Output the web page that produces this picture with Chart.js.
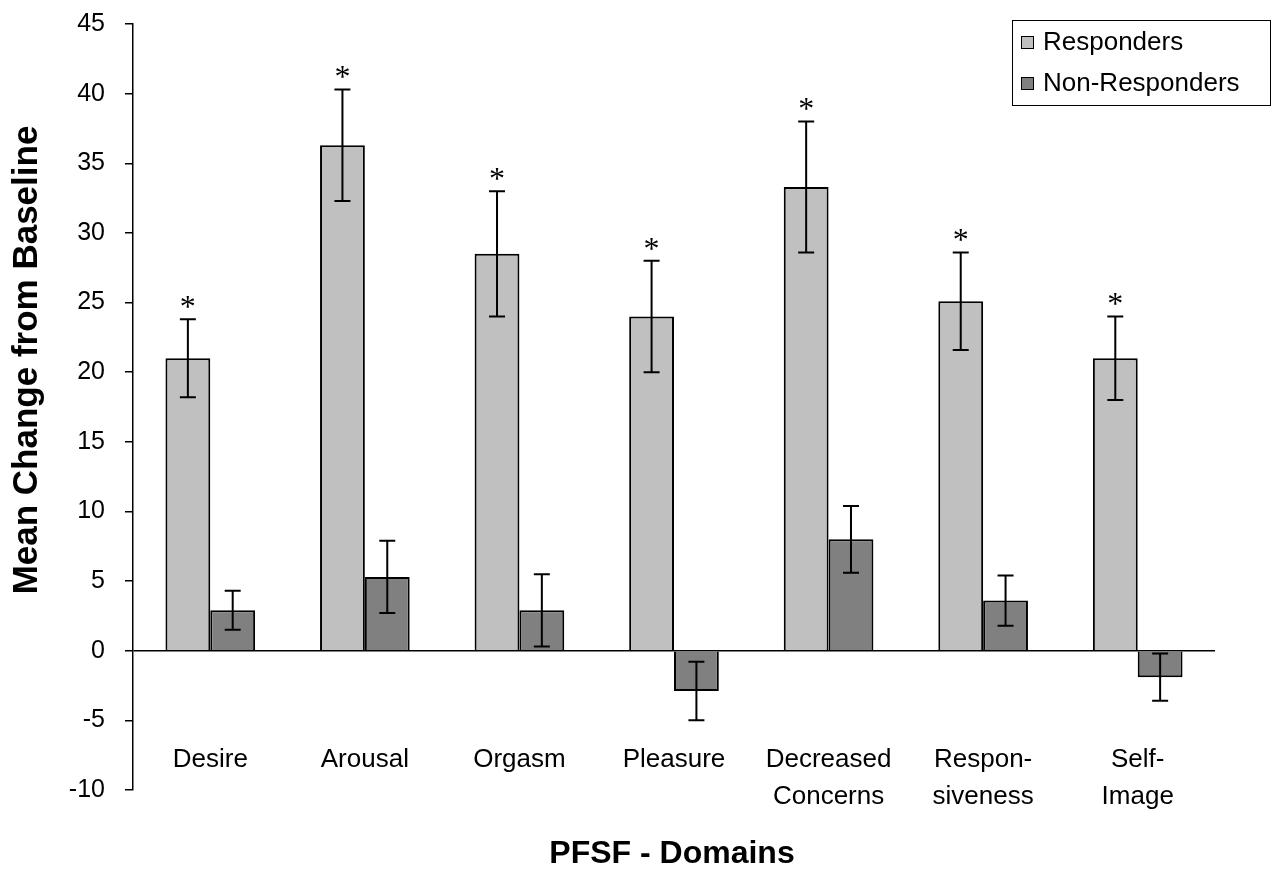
<!DOCTYPE html>
<html>
<head>
<meta charset="utf-8">
<script src="https://cdn.jsdelivr.net/npm/chart.js@4"></script>
<style>
  body { margin: 0; background: #fff; }
  #wrap { width: 1272px; height: 869px; position: relative; }
</style>
</head>
<body>
<div id="wrap"><canvas id="myChart"></canvas></div>
<script>
const categories = ['Desire', 'Arousal', 'Orgasm', 'Pleasure', ['Decreased', 'Concerns'], ['Respon-', 'siveness'], ['Self-', 'Image']];
const responders = [21.0, 36.3, 28.5, 24.0, 33.3, 25.1, 21.0];
const respondersErr = [2.8, 4.0, 4.5, 4.0, 4.7, 3.5, 3.0];
const nonResponders = [2.9, 5.3, 2.9, -2.9, 8.0, 3.6, -1.9];
const nonRespondersErr = [1.4, 2.6, 2.6, 2.1, 2.4, 1.8, 1.7];
const significant = [true, true, true, true, true, true, true];
const yTicks = { min: -10, max: 45, step: 5 };

const ctx = document.getElementById('myChart');
const FONT = "'Liberation Sans', Arial, sans-serif";

// error bars, asterisks, category labels, legend box and axis titles
const extras = {
    id: 'extras',
    afterDatasetsDraw(chart) {
        const c = chart.ctx;
        const y = chart.scales.y;
        const errs = [respondersErr, nonRespondersErr];
        c.save();
        c.strokeStyle = '#000';
        c.lineWidth = 2;
        chart.data.datasets.forEach((ds, i) => {
            const meta = chart.getDatasetMeta(i);
            meta.data.forEach((bar, j) => {
                const v = ds.data[j];
                const e = errs[i][j];
                const top = y.getPixelForValue(v + e);
                const bot = y.getPixelForValue(v - e);
                c.beginPath();
                c.moveTo(bar.x, top); c.lineTo(bar.x, bot);
                c.moveTo(bar.x - 8, top); c.lineTo(bar.x + 8, top);
                c.moveTo(bar.x - 8, bot); c.lineTo(bar.x + 8, bot);
                c.stroke();
                if (i === 0 && significant[j]) {
                    c.fillStyle = '#000';
                    c.font = "32px 'Liberation Serif', 'Times New Roman', serif";
                    c.textAlign = 'center';
                    c.textBaseline = 'alphabetic';
                    c.fillText('*', bar.x, top - 2);
                }
            });
        });
        c.restore();
    },
    afterDraw(chart) {
        const c = chart.ctx;
        const x = chart.scales.x;
        c.save();
        // category labels sit low inside the plot
        c.fillStyle = '#000';
        c.font = '26px ' + FONT;
        c.textAlign = 'center';
        c.textBaseline = 'middle';
        categories.forEach((lab, i) => {
            const lines = Array.isArray(lab) ? lab : [lab];
            const px = x.getPixelForTick(i);
            lines.forEach((ln, k) => c.fillText(ln, px, 760 + k * 37));
        });
        // legend
        c.strokeStyle = '#000';
        c.lineWidth = 1;
        c.strokeRect(1012.5, 20.5, 258, 85);
        const items = [['Responders', '#c0c0c0', 42], ['Non-Responders', '#808080', 83]];
        c.textAlign = 'left';
        items.forEach(([txt, col, cy]) => {
            c.fillStyle = col;
            c.fillRect(1021, cy - 6, 12, 12);
            c.strokeRect(1021.5, cy - 5.5, 12, 12);
            c.fillStyle = '#000';
            c.fillText(txt, 1043, cy + 1);
        });
        // axis titles
        c.font = 'bold 32px ' + FONT;
        c.textAlign = 'center';
        c.fillText('PFSF - Domains', 672, 854);
        c.translate(27, 360);
        c.rotate(-Math.PI / 2);
        c.font = 'bold 35px ' + FONT;
        c.fillText('Mean Change from Baseline', 0, 0);
        c.restore();
    }
};

new Chart(ctx, {
    type: 'bar',
    data: {
        labels: categories,
        datasets: [{
            label: 'Responders',
            data: responders,
            backgroundColor: '#c0c0c0',
            borderColor: '#000',
            borderWidth: 2,
            categoryPercentage: 0.58,
            barPercentage: 1.0
        }, {
            label: 'Non-Responders',
            data: nonResponders,
            backgroundColor: '#808080',
            borderColor: '#000',
            borderWidth: 2,
            categoryPercentage: 0.58,
            barPercentage: 1.0
        }]
    },
    options: {
        responsive: true,
        maintainAspectRatio: false,
        animation: false,
        layout: { padding: { left: 0, right: 57, top: 24, bottom: 0 } },
        plugins: {
            legend: { display: false },
            tooltip: { enabled: false }
        },
        scales: {
            x: {
                grid: { display: false, drawTicks: false },
                border: { display: false },
                ticks: { display: false },
                afterFit(scale) { scale.height = 79; }
            },
            y: {
                min: yTicks.min,
                max: yTicks.max,
                ticks: {
                    stepSize: yTicks.step,
                    color: '#000',
                    font: { family: FONT, size: 25 },
                    padding: 20
                },
                grid: {
                    color: c => c.tick && c.tick.value === 0 ? '#000' : 'rgba(0,0,0,0)',
                    tickColor: '#000',
                    tickLength: 8,
                    lineWidth: 1.5
                },
                border: { display: true, color: '#000', width: 1.5 },
                afterFit(scale) {
                    scale.width = 133;
                    scale.paddingTop = 0;
                    scale.paddingBottom = 0;
                }
            }
        }
    },
    plugins: [extras]
});
</script>
</body>
</html>
